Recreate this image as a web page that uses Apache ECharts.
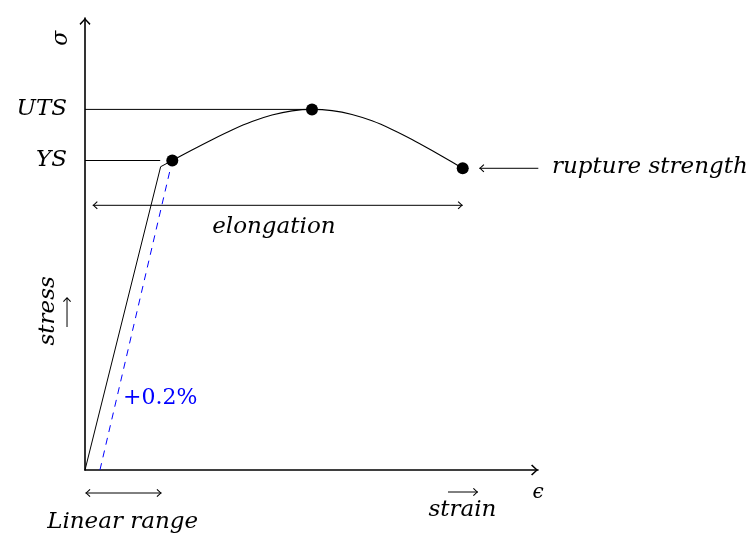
<!DOCTYPE html>
<html>
<head>
<meta charset="utf-8">
<script src="https://cdn.jsdelivr.net/npm/echarts@6/dist/echarts.min.js"></script>
<style>html,body{margin:0;padding:0;background:#fff;}#c{width:756px;height:534px;}</style>
</head>
<body>
<div id="c"></div>
<script>
// ---- data (strain and stress in arbitrary units, axes 0..100) ----
const linearStrain = [0, 16.7, 19.27];
const linearStress = [0, 67.1, 68.47];
const curveStrain = [19.27, 23.62, 28.04, 32.45, 36.87, 41.28, 45.70, 50.11, 54.53, 58.94, 63.36, 67.77, 72.19, 76.60, 81.02, 83.38];
const curveStress = [68.47, 70.80, 73.08, 75.22, 77.08, 78.52, 79.45, 79.78, 79.51, 78.66, 77.25, 75.35, 73.13, 70.68, 68.12, 66.75];
const keyNames = ['YS', 'UTS', 'rupture'];
const keyStrain = [19.27, 50.11, 83.38];
const keyStress = [68.47, 79.78, 66.75];
const offsetStrain = [3.3, 19.27];
const offsetStress = [0, 68.47];
const yTickValues = [68.47, 79.78];
const yTickLabels = ['YS', 'UTS'];
const ysLineEnd = 16.6;

const SERIF = 'DejaVu Serif';
const AXIS_ARROW = 'path://M5.5,0 L11,5.8 L10,7 L5.5,2 L1,7 L0,5.8 Z';
const THIN_ARROW = 'path://M4,0 L8,4.2 L7.2,5 L4,1.4 L0.8,5 L0,4.2 Z';
const UP_ARROW = 'path://M4,0 L8,4.2 L7.2,5 L4.5,2 L4.5,30 L3.5,30 L3.5,2 L0.8,5 L0,4.2 Z';
const HEAD = [8, 5];

function zip(a, b) { return a.map((v, i) => [v, b[i]]); }

function headItem(x, y, px, py, show) {
  if (!show) return { value: [x, y], symbol: 'none' };
  let rot = 0, off = [0, 0];
  const h = HEAD[1] / 2;
  if (x > px) { rot = -90; off = [-h, 0]; }
  else if (x < px) { rot = 90; off = [h, 0]; }
  else if (y > py) { rot = 0; off = [0, h]; }
  else { rot = 180; off = [0, -h]; }
  return { value: [x, y], symbol: THIN_ARROW, symbolSize: HEAD, symbolRotate: rot, symbolOffset: off };
}
function arrow(x1, y1, x2, y2, startHead, endHead) {
  return {
    type: 'line', silent: true, clip: false, animation: false, z: 5,
    lineStyle: { color: '#000', width: 1 },
    itemStyle: { color: '#000', opacity: 1 },
    data: [headItem(x1, y1, x2, y2, startHead), headItem(x2, y2, x1, y1, endHead)]
  };
}
function txt(x, y, text, o) {
  o = o || {};
  return {
    value: [x, y],
    label: {
      show: true, position: 'inside', formatter: text,
      fontFamily: o.font || SERIF, fontStyle: o.upright ? 'normal' : 'italic',
      fontSize: o.size || 23, color: o.color || '#000',
      align: o.align || 'center', verticalAlign: 'middle',
      rotate: o.rotate || 0
    }
  };
}

const chart = echarts.init(document.getElementById('c'), null, { renderer: 'canvas' });
chart.setOption({
  animation: false,
  backgroundColor: '#fff',
  grid: { left: 85, top: 18, right: 218, bottom: 64, containLabel: false },
  xAxis: {
    type: 'value', min: 0, max: 100,
    axisLine: { show: true, symbol: ['none', AXIS_ARROW], symbolSize: [11, 7], symbolOffset: [0, -3.5],
      lineStyle: { color: '#000', width: 1.6 } },
    axisTick: { show: false }, axisLabel: { show: false }, splitLine: { show: false }
  },
  yAxis: {
    type: 'value', min: 0, max: 100,
    axisLine: { show: true, onZero: false, symbol: ['none', AXIS_ARROW], symbolSize: [11, 7], symbolOffset: [0, -3.5],
      lineStyle: { color: '#000', width: 1.6 } },
    axisTick: { show: false },
    axisLabel: {
      show: true, customValues: yTickValues, margin: 18,
      formatter: v => { const i = yTickValues.indexOf(v); return i >= 0 ? yTickLabels[i] : ''; },
      fontFamily: SERIF, fontStyle: 'italic', fontSize: 23, color: '#000',
      padding: [3, 0, 0, 0]
    },
    splitLine: { show: false }
  },
  series: [
    { type: 'line', silent: true, symbol: 'none', lineStyle: { color: '#000', width: 1 },
      data: [[0, yTickValues[0]], [ysLineEnd, yTickValues[0]]] },
    { type: 'line', silent: true, symbol: 'none', lineStyle: { color: '#000', width: 1 },
      data: [[0, yTickValues[1]], [keyStrain[1], yTickValues[1]]] },
    { type: 'line', silent: true, symbol: 'none', lineStyle: { color: '#000', width: 1 },
      data: zip(linearStrain, linearStress) },
    { type: 'line', silent: true, symbol: 'none', smooth: 0.3, lineStyle: { color: '#000', width: 1.1 },
      data: zip(curveStrain, curveStress) },
    { type: 'line', silent: true, symbol: 'none', lineStyle: { color: '#0000ff', width: 1, type: [7, 6] },
      data: zip(offsetStrain, offsetStress) },
    { type: 'scatter', silent: true, symbol: 'circle', symbolSize: 12, itemStyle: { color: '#000', opacity: 1 }, z: 10,
      data: keyStrain.map((x, i) => ({ name: keyNames[i], value: [x, keyStress[i]] })) },
    arrow(1.7, 58.56, 83.38, 58.56, true, true),
    arrow(100.07, 66.75, 87.04, 66.75, false, true),
    arrow(0.1, -5.09, 16.9, -5.09, true, true),
    arrow(80.13, -4.87, 86.75, -4.87, false, true),
    { type: 'scatter', silent: true, clip: false, z: 6,
      itemStyle: { color: '#000', opacity: 1 },
      data: [{ value: [-3.97, 34.96], symbol: UP_ARROW, symbolSize: [8, 30] }] },
    { type: 'scatter', silent: true, clip: false, symbol: 'circle', symbolSize: 0, z: 20,
      itemStyle: { color: 'rgba(0,0,0,0)', opacity: 1 },
      data: [
        txt(41.7, 53.7, 'elongation'),
        txt(103.1, 67.0, 'rupture strength', { align: 'left' }),
        txt(8.4, 15.8, '+0.2%', { upright: true, color: '#0000ff', align: 'left', size: 22 }),
        txt(8.3, -11.5, 'Linear range'),
        txt(83.3, -8.9, 'strain'),
        txt(-8.2, 35.2, 'stress', { rotate: 90 }),
        txt(-5.2, 95.5, 'σ', { rotate: 90, size: 22 }),
        txt(100, -5.1, 'ϵ', { size: 20 })
      ] }
  ]
});
</script>
</body>
</html>
